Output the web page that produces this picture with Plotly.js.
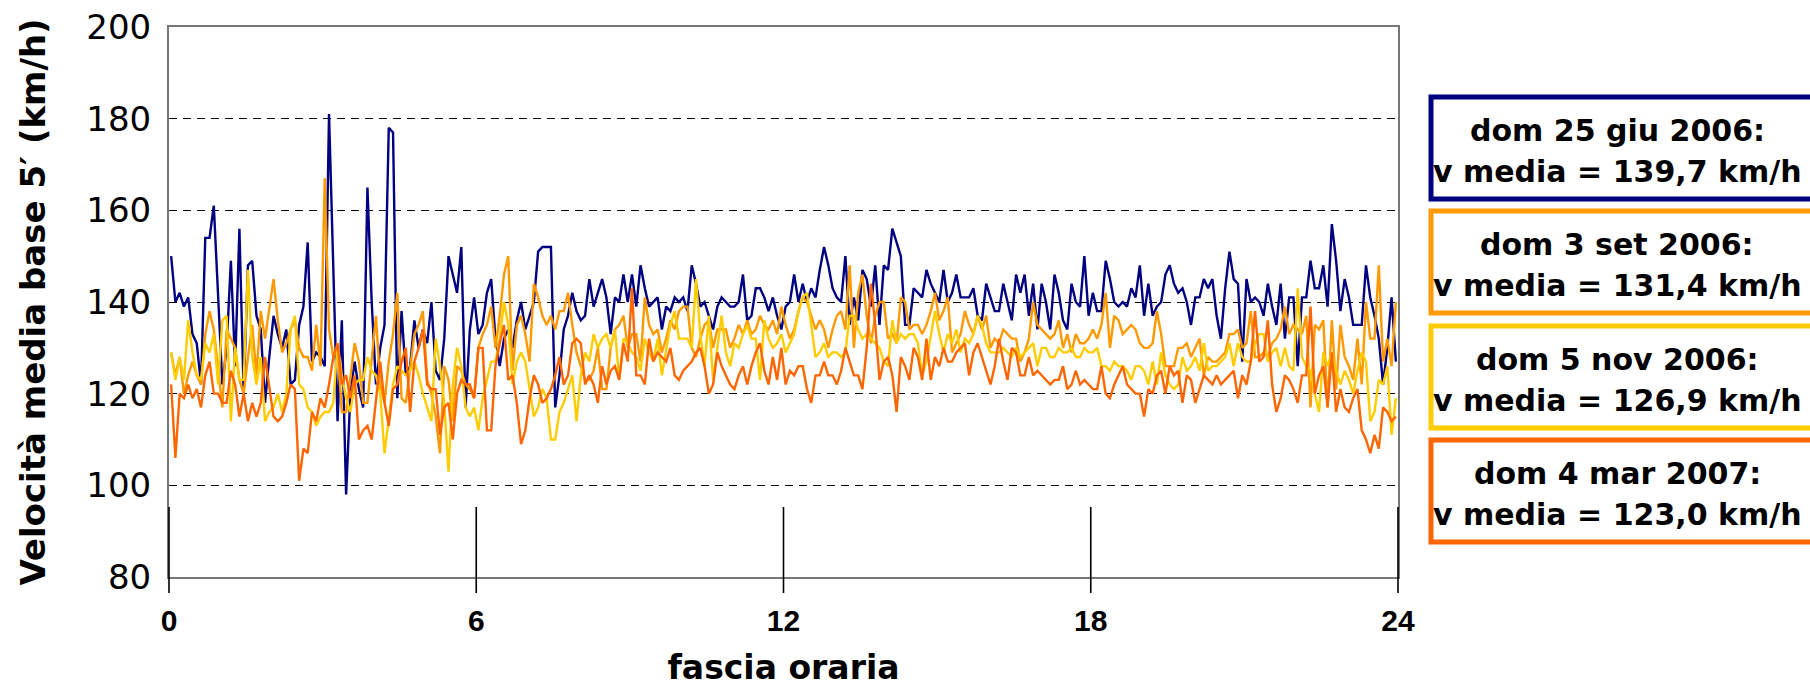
<!DOCTYPE html>
<html>
<head>
<meta charset="utf-8">
<script src="https://cdn.plot.ly/plotly-3.0.1.min.js"></script>
<style>
  html, body { margin: 0; padding: 0; background: #ffffff; }
  #chart { width: 1810px; height: 687px; }
</style>
</head>
<body>
<div id="chart"></div>
<script>
// ---------- DATA ----------
const SERIES_NAMES = ['dom 25 giu 2006', 'dom 3 set 2006', 'dom 5 nov 2006', 'dom 4 mar 2007'];
const SERIES_MEANS = ['139,7', '131,4', '126,9', '123,0'];
const SLOTS_PER_HOUR = 12; // 5-minute intervals
const X_TICKS = [0, 6, 12, 18, 24];
const Y_TICKS = [80, 100, 120, 140, 160, 180, 200];

const GIU_2006 = [
150,140,142,139,141,133,131,122,154,154,161,141,122,130,149,126,156,120,148,149,137,134,118,128,137,133,130,134,122,123,135,139,153,127,129,128,
126,181,146,114,136,98,120,127,121,117,165,140,122,130,135,178,177,119,138,124,126,136,130,134,131,140,125,123,132,150,146,142,152,117,134,141,133,
135,142,145,132,126,132,134,130,136,140,134,137,140,151,152,152,152,117,124,134,137,142,138,136,137,145,139,142,145,141,133,141,140,146,140,146,
139,148,143,139,140,141,134,139,138,141,140,141,138,148,144,139,140,137,134,139,141,140,139,139,140,146,136,137,143,143,141,138,141,137,134,139,
140,146,140,144,140,143,141,147,152,148,143,141,140,150,135,141,136,147,145,139,148,135,148,147,156,153,150,135,135,143,142,141,147,144,142,140,147,
140,142,146,141,141,141,143,137,136,144,141,138,138,144,140,136,146,142,146,137,144,134,144,140,134,146,142,136,134,144,140,139,150,137,142,138,
138,149,145,140,139,140,139,143,141,148,137,144,137,139,140,146,148,144,142,143,140,135,141,141,145,143,145,137,132,143,151,145,144,127,145,140,
141,140,137,144,139,135,144,132,141,141,126,141,141,149,143,143,148,139,157,149,138,145,141,135,135,135,148,141,137,132,122,130,141,127
];

const SET_2006 = [
129,124,128,120,124,127,124,122,133,138,134,125,117,134,132,130,123,120,128,135,124,138,132,138,145,136,129,131,134,136,130,128,128,125,135,126,
167,134,128,130,116,116,124,131,127,118,118,128,137,122,118,127,133,142,119,118,126,133,135,138,123,120,115,107,126,123,114,126,125,122,121,119,130,
133,135,139,130,137,146,150,125,135,137,133,127,144,141,137,135,137,134,138,138,142,135,129,126,123,123,125,130,121,121,130,134,135,137,130,133,
133,127,141,135,133,134,129,132,136,134,138,139,139,130,128,132,135,136,130,134,134,134,130,132,135,133,136,133,134,137,135,134,136,133,139,135,
132,134,138,141,140,137,134,136,134,130,134,137,138,134,148,130,142,146,137,131,137,140,140,132,133,131,141,140,134,135,135,133,135,138,142,136,138,
141,129,131,133,138,135,133,137,134,137,130,132,131,134,133,132,132,127,129,132,140,135,134,133,132,133,136,130,133,129,133,131,131,132,134,132,
135,142,130,137,136,133,134,135,134,131,130,130,131,138,133,126,126,126,130,130,131,128,130,132,124,128,127,127,128,129,133,133,134,130,131,138,
128,128,129,128,131,132,134,139,133,135,134,133,137,117,135,134,136,117,136,121,135,128,126,123,132,122,140,132,132,148,127,132,126,140
];

const NOV_2006 = [
129,123,128,123,136,129,124,123,131,129,133,122,136,137,114,130,123,123,147,128,122,128,114,116,117,120,116,120,134,137,122,121,117,116,113,115,
116,116,118,131,124,119,116,122,123,123,128,125,124,120,107,115,122,126,125,124,125,127,124,120,117,114,132,126,118,103,122,130,126,117,115,117,112,
119,123,127,127,132,140,135,122,127,129,127,121,115,117,121,119,110,110,116,118,121,124,114,124,129,127,133,130,132,133,130,134,123,132,131,129,
128,125,132,129,127,132,124,130,135,138,132,132,132,130,145,133,126,137,123,130,137,129,126,131,130,133,135,132,132,123,136,132,130,131,133,129,
131,133,138,141,142,135,128,129,131,128,129,129,128,129,137,137,134,132,133,132,131,130,127,126,136,131,133,132,133,133,131,124,127,133,138,133,129,
133,131,134,129,132,131,133,137,135,131,129,129,129,130,129,128,130,128,129,130,131,126,130,130,128,128,130,129,129,130,128,128,130,129,129,130,
126,126,125,127,126,126,125,123,126,126,125,122,127,122,129,124,122,121,122,128,125,126,128,125,131,125,126,126,127,128,131,126,131,128,127,127,
131,133,133,127,129,130,126,130,126,125,143,128,126,125,120,116,129,126,129,125,122,125,123,120,125,129,127,114,116,123,122,126,111,119
];

const MAR_2007 = [
122,106,120,119,122,119,121,117,124,127,120,120,118,118,125,122,115,120,114,118,115,118,128,121,115,114,115,118,122,121,101,108,107,116,114,119,
117,122,128,131,122,124,119,124,110,112,113,110,118,127,118,113,121,122,127,130,116,127,130,134,122,121,121,111,117,118,110,120,123,122,122,119,130,
130,112,112,126,131,135,123,124,118,109,112,119,124,122,118,119,121,124,128,122,124,131,132,131,122,124,122,118,126,122,125,126,123,131,127,143,
124,124,122,132,127,129,128,127,130,124,123,125,126,127,129,130,126,120,122,129,126,124,122,121,124,126,122,126,129,131,125,122,128,123,130,122,
125,124,126,126,121,118,124,124,127,124,124,122,125,130,127,124,124,121,130,144,135,123,127,128,124,116,128,126,123,130,128,123,132,123,128,126,130,
127,127,129,130,131,124,129,131,128,125,122,126,132,127,123,130,129,124,124,128,124,125,124,123,122,123,123,126,121,122,125,122,123,122,121,121,
126,120,119,122,124,126,122,121,120,120,115,121,120,124,125,120,126,124,125,118,124,123,118,121,124,123,122,124,122,123,124,125,119,124,122,127,
138,127,128,136,122,116,119,124,123,121,118,124,124,139,120,124,126,117,129,116,121,117,116,119,121,112,110,107,111,108,117,116,114,115
];

const SERIES_VALUES = [GIU_2006, SET_2006, NOV_2006, MAR_2007];

// ---------- STYLE ----------
const COLORS = ['#000080', '#FF9900', '#FFCC00', '#FF6600'];
const W = 1810, H = 687;
const M = { l: 169, r: 412, t: 27, b: 110 };
const plotW = W - M.l - M.r, plotH = H - M.t - M.b;
const px2x = px => (px - M.l) / plotW;
const px2y = py => (H - M.b - py) / plotH;
const X_RANGE = [0, 24];

// category slot -> hour position (centre of each 5-minute slot)
const traces = SERIES_VALUES.map((vals, s) => ({
  type: 'scatter',
  mode: 'lines',
  x: vals.map((_, i) => (i + 0.5) / SLOTS_PER_HOUR),
  y: vals,
  name: SERIES_NAMES[s],
  line: { color: COLORS[s], width: 2.4 },
  hoverinfo: 'skip',
  showlegend: false
}));

// long "cross" tick marks of the hour axis (from ~95 km/h to below the axis line)
const TICK_TOP_PX = 507, TICK_BOTTOM_PX = 593;
const tickShapes = X_TICKS.map(t => {
  const xp = (t - X_RANGE[0]) / (X_RANGE[1] - X_RANGE[0]);
  return {
    type: 'line', xref: 'paper', yref: 'paper',
    x0: xp, x1: xp, y0: px2y(TICK_BOTTOM_PX), y1: px2y(TICK_TOP_PX),
    line: { color: '#000', width: 1.6 },
    layer: 'above'
  };
});

// legend boxes (pixel geometry)
const BOX_LEFT = 1431, BOX_RIGHT = 1816, TEXT_CX = 1617;
const BOX_TOPS = [97, 211, 326, 440];
const BOX_H = 102;

const boxShapes = BOX_TOPS.map((top, s) => ({
  type: 'rect', xref: 'paper', yref: 'paper',
  x0: px2x(BOX_LEFT), x1: px2x(BOX_RIGHT),
  y0: px2y(top + BOX_H), y1: px2y(top),
  line: { color: COLORS[s], width: 5 },
  fillcolor: 'rgba(0,0,0,0)',
  layer: 'above'
}));

const legendFont = { family: 'DejaVu Sans, Verdana, sans-serif', size: 30, weight: 'bold', color: '#000' };
const annotations = [];
BOX_TOPS.forEach((top, s) => {
  annotations.push({
    xref: 'paper', yref: 'paper', x: px2x(TEXT_CX), y: px2y(top + 33),
    xanchor: 'center', yanchor: 'middle', showarrow: false,
    text: SERIES_NAMES[s] + ':', font: legendFont
  });
  annotations.push({
    xref: 'paper', yref: 'paper', x: px2x(TEXT_CX), y: px2y(top + 74),
    xanchor: 'center', yanchor: 'middle', showarrow: false,
    text: 'v media = ' + SERIES_MEANS[s] + ' km/h', font: legendFont
  });
});

const layout = {
  width: W, height: H,
  margin: M,
  paper_bgcolor: '#ffffff',
  plot_bgcolor: '#ffffff',
  showlegend: false,
  xaxis: {
    range: X_RANGE,
    tickvals: X_TICKS,
    ticktext: X_TICKS.map(String),
    ticks: '',
    showline: true, linecolor: '#777', linewidth: 2, mirror: true,
    showgrid: false, zeroline: false,
    ticklabelstandoff: 16,
    tickfont: { family: 'Liberation Sans, Arial, sans-serif', size: 30, weight: 'bold', color: '#000' },
    title: { text: 'fascia oraria', standoff: 37,
      font: { family: 'DejaVu Sans, Verdana, sans-serif', size: 33, weight: 'bold', color: '#000' } }
  },
  yaxis: {
    range: [80, 200],
    tickvals: Y_TICKS,
    ticktext: Y_TICKS.map(String),
    ticks: '',
    showline: true, linecolor: '#777', linewidth: 2, mirror: true,
    showgrid: true, gridcolor: '#000', gridwidth: 1, griddash: '8px,6px',
    zeroline: false,
    ticklabelstandoff: 9,
    tickfont: { family: 'DejaVu Sans, Verdana, sans-serif', size: 34, color: '#000' },
    title: { text: 'Velocità media base 5′ (km/h)', standoff: 30,
      font: { family: 'DejaVu Sans, Verdana, sans-serif', size: 34, weight: 'bold', color: '#000' } }
  },
  shapes: tickShapes.concat(boxShapes),
  annotations: annotations
};

Plotly.newPlot('chart', traces, layout, { staticPlot: true, displayModeBar: false });
</script>
</body>
</html>
